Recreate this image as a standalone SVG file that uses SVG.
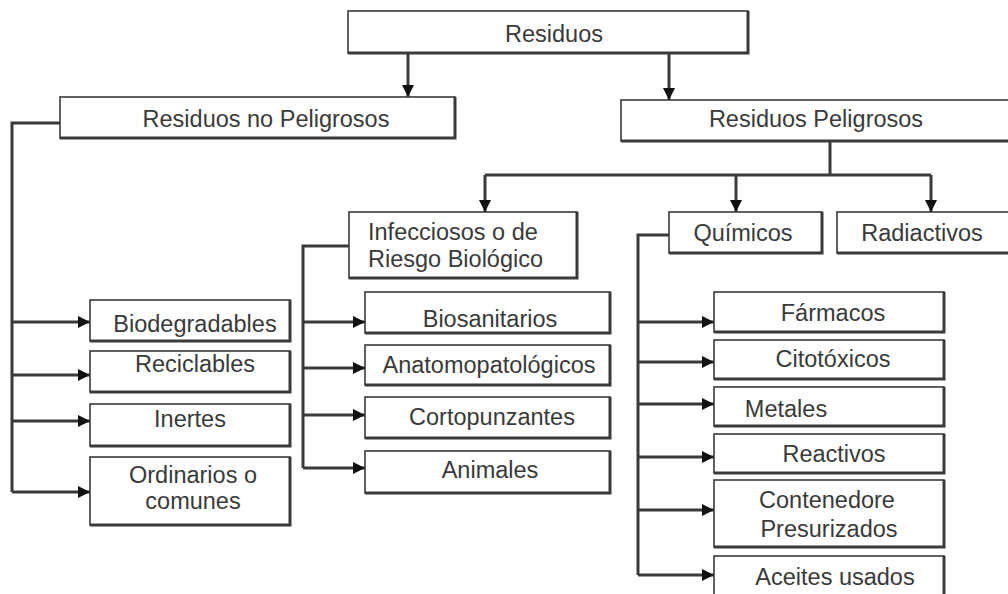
<svg xmlns="http://www.w3.org/2000/svg" width="1008" height="594" viewBox="0 0 1008 594">
<style>
.box{fill:#fff;stroke:#3a3a3a;stroke-width:1.6}
.sh{fill:none;stroke:#3a3a3a;stroke-width:3}
.t{font-family:"Liberation Sans",Arial,sans-serif;font-size:23.5px;fill:#3a3a3a;text-anchor:middle}
.c{fill:none;stroke:#3a3a3a;stroke-width:3}
</style>
<defs>
<marker id="ah" markerUnits="userSpaceOnUse" markerWidth="14" markerHeight="14" refX="12" refY="6" orient="auto">
<path d="M0,0 L12,6 L0,12 Z" fill="#111"/>
</marker>
</defs>
<rect width="1008" height="594" fill="#fff"/>
<g id="connectors">
<path class="c" d="M408,53 V97" marker-end="url(#ah)"/>
<path class="c" d="M669,53 V100" marker-end="url(#ah)"/>
<path class="c" d="M60,123 H12 V492"/>
<path class="c" d="M12,322 H90" marker-end="url(#ah)"/>
<path class="c" d="M12,375 H90" marker-end="url(#ah)"/>
<path class="c" d="M12,421 H90" marker-end="url(#ah)"/>
<path class="c" d="M12,492 H90" marker-end="url(#ah)"/>
<path class="c" d="M830,141 V175 M485,175 H931"/>
<path class="c" d="M485,175 V212" marker-end="url(#ah)"/>
<path class="c" d="M736,175 V212" marker-end="url(#ah)"/>
<path class="c" d="M931,175 V212" marker-end="url(#ah)"/>
<path class="c" d="M349,246 H303 V468"/>
<path class="c" d="M303,322 H365" marker-end="url(#ah)"/>
<path class="c" d="M303,368 H365" marker-end="url(#ah)"/>
<path class="c" d="M303,415 H365" marker-end="url(#ah)"/>
<path class="c" d="M303,468 H365" marker-end="url(#ah)"/>
<path class="c" d="M669,235 H638 V575"/>
<path class="c" d="M638,322 H714" marker-end="url(#ah)"/>
<path class="c" d="M638,362 H714" marker-end="url(#ah)"/>
<path class="c" d="M638,404 H714" marker-end="url(#ah)"/>
<path class="c" d="M638,457 H714" marker-end="url(#ah)"/>
<path class="c" d="M638,510 H714" marker-end="url(#ah)"/>
<path class="c" d="M638,575 H714" marker-end="url(#ah)"/>
</g>
<g id="residuos"><rect class="box" x="348" y="11" width="400" height="42"/><path class="sh" d="M348,53 H748 V11"/><text class="t" x="554" y="42">Residuos</text></g>
<g id="no-peligrosos"><rect class="box" x="60" y="97" width="395" height="41"/><path class="sh" d="M60,138 H455 V97"/><text class="t" x="266" y="127">Residuos no Peligrosos</text></g>
<g id="peligrosos"><rect class="box" x="621" y="100" width="392" height="41"/><path class="sh" d="M621,141 H1013"/><text class="t" x="816" y="127">Residuos Peligrosos</text></g>
<g id="biodegradables"><rect class="box" x="90" y="300" width="200" height="41"/><path class="sh" d="M90,341 H290 V300"/><text class="t" x="195" y="332">Biodegradables</text></g>
<g id="reciclables"><rect class="box" x="90" y="351" width="200" height="41"/><path class="sh" d="M90,392 H290 V351"/><text class="t" x="195" y="372">Reciclables</text></g>
<g id="inertes"><rect class="box" x="90" y="404" width="200" height="42"/><path class="sh" d="M90,446 H290 V404"/><text class="t" x="190" y="427">Inertes</text></g>
<g id="ordinarios"><rect class="box" x="90" y="457" width="200" height="68"/><path class="sh" d="M90,525 H290 V457"/><text class="t" x="193" y="483">Ordinarios o</text><text class="t" x="193" y="509">comunes</text></g>
<g id="infecciosos"><rect class="box" x="349" y="212" width="228" height="66"/><path class="sh" d="M349,278 H577 V212"/><text class="t" x="368" y="240" style="text-anchor:start">Infecciosos o de</text><text class="t" x="368" y="267" style="text-anchor:start">Riesgo Biológico</text></g>
<g id="biosanitarios"><rect class="box" x="365" y="292" width="245" height="41"/><path class="sh" d="M365,333 H610 V292"/><text class="t" x="490" y="327">Biosanitarios</text></g>
<g id="anatomopatologicos"><rect class="box" x="365" y="345" width="245" height="40"/><path class="sh" d="M365,385 H610 V345"/><text class="t" x="489" y="373">Anatomopatológicos</text></g>
<g id="cortopunzantes"><rect class="box" x="365" y="397" width="245" height="41"/><path class="sh" d="M365,438 H610 V397"/><text class="t" x="492" y="425">Cortopunzantes</text></g>
<g id="animales"><rect class="box" x="365" y="451" width="245" height="42"/><path class="sh" d="M365,493 H610 V451"/><text class="t" x="490" y="478">Animales</text></g>
<g id="quimicos"><rect class="box" x="669" y="212" width="153" height="41"/><path class="sh" d="M669,253 H822 V212"/><text class="t" x="743" y="241">Químicos</text></g>
<g id="radiactivos"><rect class="box" x="837" y="212" width="176" height="41"/><path class="sh" d="M837,253 H1013"/><text class="t" x="922" y="241">Radiactivos</text></g>
<g id="farmacos"><rect class="box" x="714" y="292" width="230" height="40"/><path class="sh" d="M714,332 H944 V292"/><text class="t" x="833" y="321">Fármacos</text></g>
<g id="citotoxicos"><rect class="box" x="714" y="340" width="230" height="39"/><path class="sh" d="M714,379 H944 V340"/><text class="t" x="833" y="367">Citotóxicos</text></g>
<g id="metales"><rect class="box" x="714" y="387" width="230" height="39"/><path class="sh" d="M714,426 H944 V387"/><text class="t" x="786" y="417">Metales</text></g>
<g id="reactivos"><rect class="box" x="714" y="434" width="230" height="39"/><path class="sh" d="M714,473 H944 V434"/><text class="t" x="834" y="462">Reactivos</text></g>
<g id="contenedores"><rect class="box" x="714" y="480" width="230" height="67"/><path class="sh" d="M714,547 H944 V480"/><text class="t" x="827" y="508">Contenedore</text><text class="t" x="829" y="537">Presurizados</text></g>
<g id="aceites"><rect class="box" x="714" y="556" width="230" height="50"/><path class="sh" d="M944,556 V600"/><text class="t" x="835" y="585">Aceites usados</text></g>
</svg>
